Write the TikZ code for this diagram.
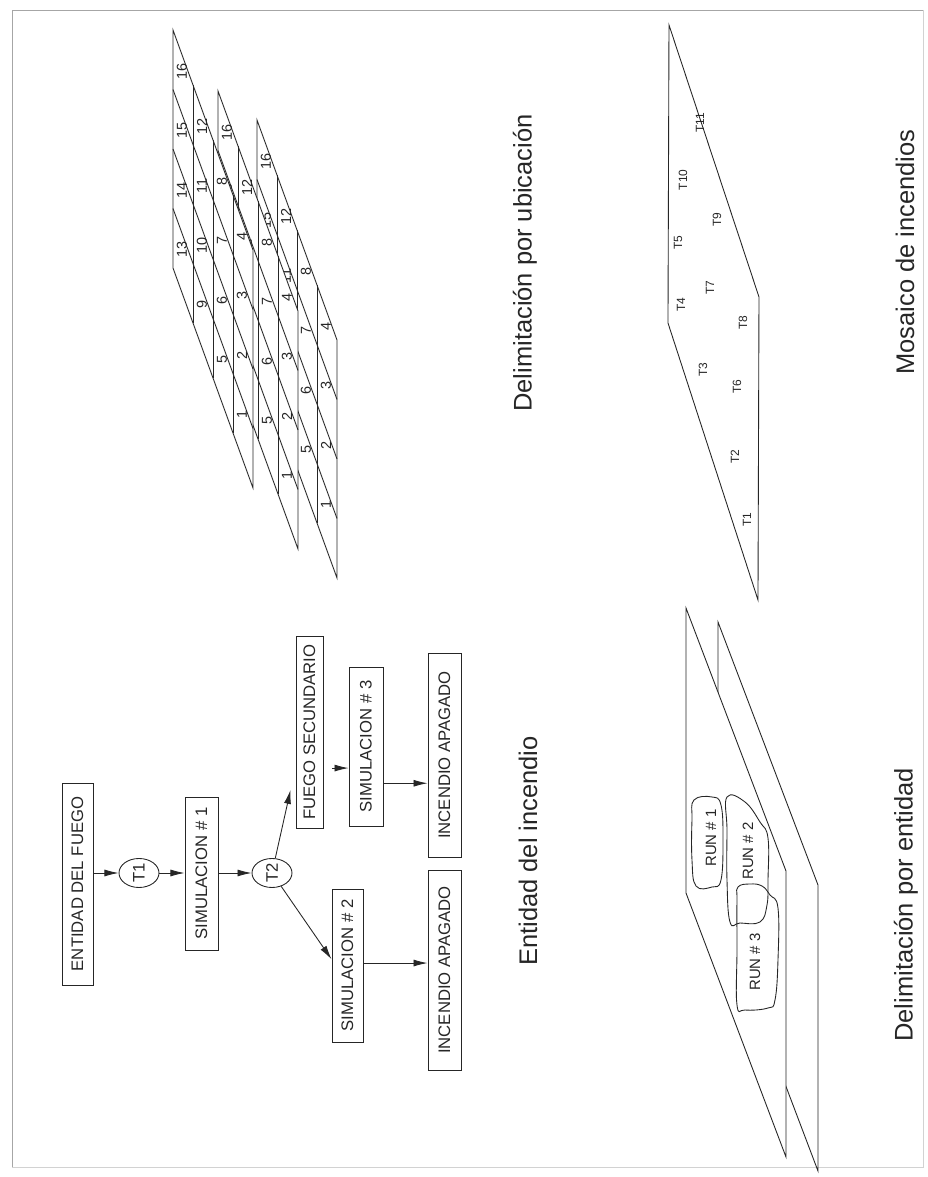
\documentclass[tikz,border=0pt]{standalone}
\usepackage{fontspec}
\setmainfont{Liberation Sans}
\usetikzlibrary{arrows.meta, shapes.geometric, calc}
\tikzset{
>={Latex[length=8pt,width=4pt]}, % filled arrow heads
box/.style={draw, rectangle, inner sep=0pt, font=\fontsize{9.5}{11}\selectfont}, % boxes of the flow chart
tstep/.style={draw, ellipse, inner sep=0pt, minimum width=0.58cm, minimum height=0.8cm, font=\fontsize{9.5}{11}\selectfont}, % T1, T2
arr/.style={->},
caption/.style={font=\fontsize{14.5}{17}\selectfont}, % titles of the four parts
cell/.style={inner sep=0pt, font=\fontsize{8.2}{9}\selectfont}, % numbers of the grid cells
tlabel/.style={inner sep=0pt, font=\fontsize{6.8}{8}\selectfont}, % fire labels of the mosaic
run/.style={inner sep=0pt, font=\fontsize{8.5}{10}\selectfont},
}

\begin{document}
\begin{tikzpicture}[rotate=90, transform shape, x=0.02cm, y=0.02cm, color=black!85, line width=0.5pt]
\useasboundingbox (0,0) rectangle (1177,927);
% page frame
\draw[gray!70] (10,915) -- (1167,915) -- (1167,4);
\draw[gray!35] (1167,4) -- (10,4) -- (10,915);

% flow chart
\node[box, minimum width=4.04cm, minimum height=0.62cm] (entidad) at (293,849.5) {ENTIDAD DEL FUEGO};
\node[tstep] (t1) at (304,788) {T1};
\node[box, minimum width=3.06cm, minimum height=0.66cm] (sim1) at (303.5,725.5) {SIMULACION \# 1};
\node[tstep] (t2) at (304,655) {T2};
\node[box, minimum width=3.84cm, minimum height=0.54cm] (fuego) at (445,617.5) {FUEGO SECUNDARIO};
\node[box, minimum width=3.18cm, minimum height=0.68cm] (sim3) at (430.5,561) {SIMULACION \# 3};
\node[box, minimum width=3.06cm, minimum height=0.62cm] (sim2) at (211.5,579.5) {SIMULACION \# 2};
\node[box, minimum width=4.08cm, minimum height=0.66cm] (inc1) at (422,482.5) {INCENDIO APAGADO};
\node[box, minimum width=4.0cm, minimum height=0.66cm] (inc2) at (207,482.5) {INCENDIO APAGADO};

\coordinate (fin) at ($(fuego.north west)!0.2!(fuego.north east)+(0,5)$);
\coordinate (s2in) at ($(sim2.north west)!0.54!(sim2.north east)$);
\coordinate (s3in) at ($(sim3.north west)!0.365!(sim3.north east)$);
\coordinate (fout) at ($(s3in |- fuego.south)+(0,-9)$);
\coordinate (s3out) at ($(sim3.south west)!0.27!(sim3.south east)$);
\coordinate (s2out) at ($(sim2.south west)!0.516!(sim2.south east)$);

\draw[arr] (entidad.south -| t1) -- (t1);
\draw[arr] (t1) -- (t1 |- sim1.north);
\draw[arr] (sim1.south -| t2) -- (t2);
\draw[arr] (t2) -- (fin);
\draw[arr] (t2) -- (s2in);
\draw[arr] (fout) -- (s3in);
\draw[arr] (s3out) -- (s3out |- inc1.north);
\draw[arr] (s2out) -- (s2out |- inc2.north);

\node[caption] (capflow) at (326,399) {Entidad del incendio};

% grids by location, back one first
\foreach \ox/\oy in {1057/670, 1086/709, 1147/754} {
  \filldraw[fill=white] (\ox,\oy) -- ++(-220,-80) -- ++(-238,0) -- ++(220,80) -- cycle;
  \foreach \i in {1,2,3}
    \draw ({\ox-55*\i},{\oy-20*\i}) -- ++(-238,0);
  \foreach \j in {1,2,3}
    \draw ({\ox-59.5*\j},\oy) -- ++(-220,-80);
  \foreach \c in {0,...,3}
    \foreach \r in {0,...,3} {
      \pgfmathtruncatemacro\n{16-4*\c-\r}
      \node[cell] at ({\ox-55*(\c+0.5)-59.5*(\r+0.5)+16},{\oy-20*(\c+0.5)+1}) {\n};
    }
}
\node[caption] (capgrid) at (914,402) {Delimitación por ubicación};

% mosaic
\draw (1152,258) -- (854,259) -- (577,169) -- (880,168) -- cycle;
\foreach \t/\x/\y in {1/657/180, 2/720/192, 3/807/224, 4/872/246, 5/934/249, 6/790/190,
                      7/889/217, 8/854/184, 9/957/210, 10/997/244, 11/1054/227}
  \node[tlabel] at (\x,\y) {T\t};
\node[caption] (capmosaic) at (925,22) {Mosaico de incendios};

% planes by entity
\filldraw[fill=white] (270,209) -- (555,209) -- (292,109) -- (6,109) -- cycle;
\filldraw[fill=white] (284,241) -- (569,241) -- (306,141) -- (20,141) -- cycle;
\draw plot[smooth cycle, tension=0.7] coordinates {(377,233) (380,215) (372,206) (337,204) (297,206) (290,215) (291,231) (317,235) (357,235)};
\draw plot[smooth cycle, tension=0.7] coordinates {(380,200) (375,182) (355,167) (339,159) (297,159) (272,160) (255,167) (254,187) (255,197) (297,200) (347,200)};
\draw plot[smooth cycle, tension=0.7] coordinates {(290,189) (293,177) (291,165) (282,157) (269,149) (217,149) (177,152) (169,159) (167,182) (172,190) (227,190) (277,190)};
\node[run] (run1) at (339,216) {RUN \# 1};
\node[run] (run2) at (326,179) {RUN \# 2};
\node[run] (run3) at (215,172) {RUN \# 3};
\node[caption] (capentity) at (272,21) {Delimitación por entidad};
\end{tikzpicture}
\end{document}
